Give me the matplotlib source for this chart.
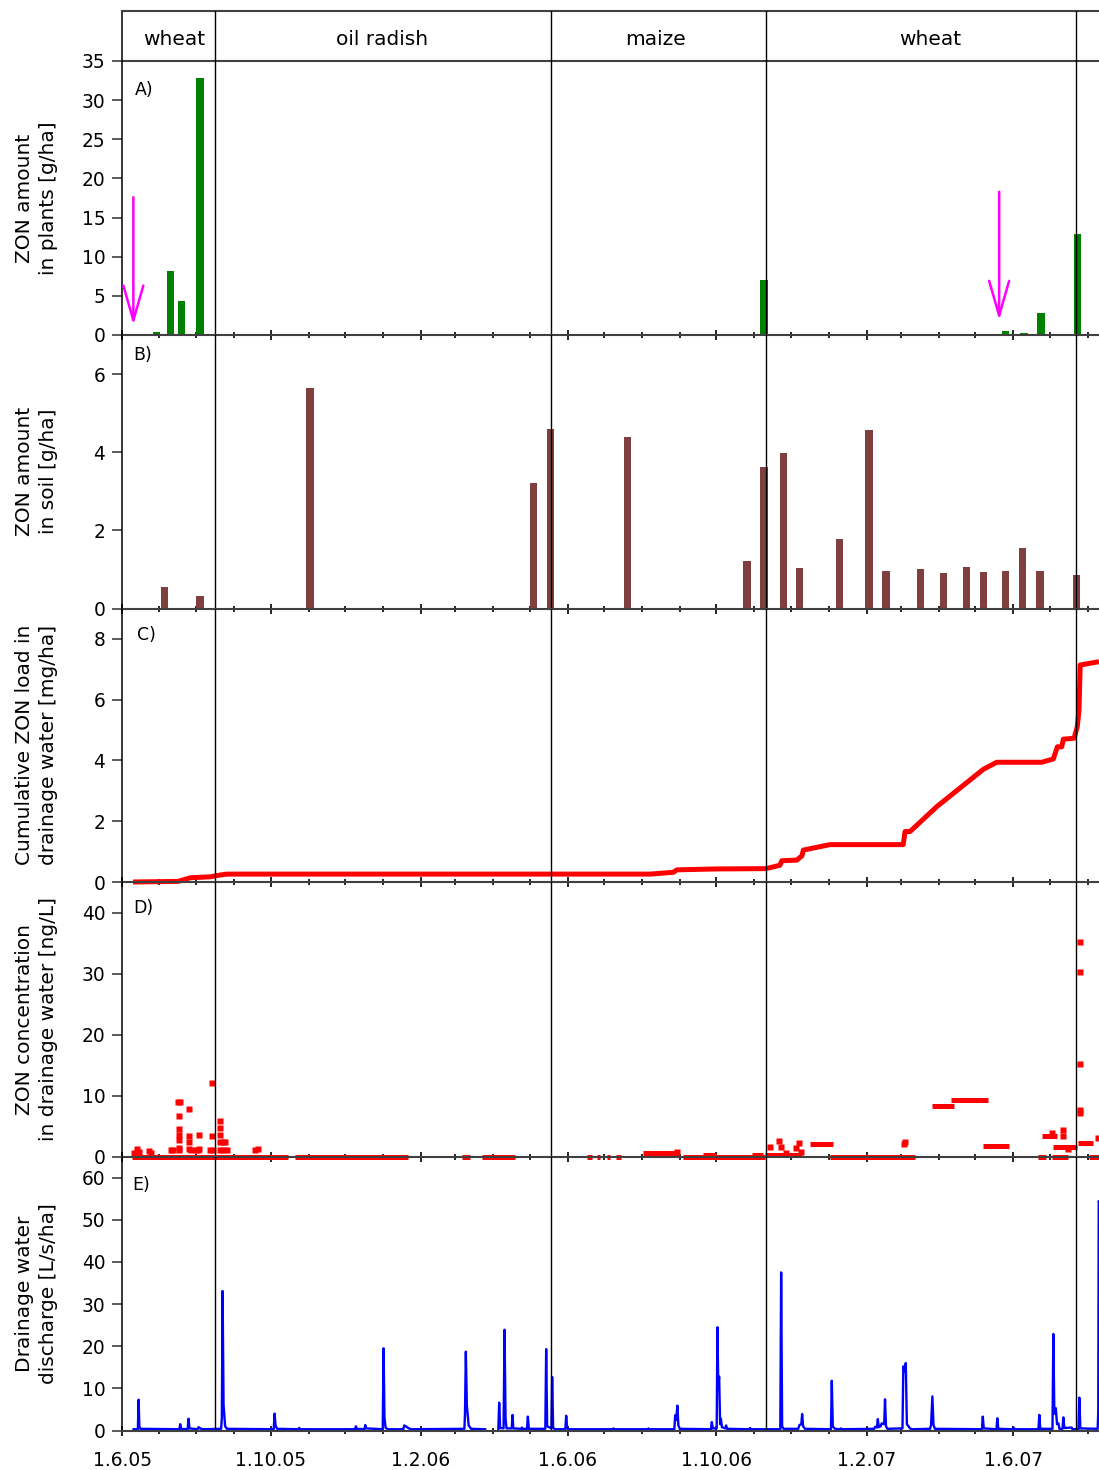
import numpy as np
import matplotlib
matplotlib.use("Agg")
import matplotlib.pyplot as plt
import matplotlib.dates as mdates
from datetime import datetime

# ---------------- data (days counted from 1 June 2005) ----------------
START = datetime(2005, 6, 1)
X_END_DAY = 800.4

crop_names = ["wheat", "oil radish", "maize", "wheat"]
crop_bounds = [75.8, 351.3, 527.4, 781.6]          # crop changes (vertical lines)
crop_label_days = [43, 213, 437, 662]

# A) ZON amount in plants [g/ha]
A_days = [28, 40, 49, 64, 526, 724, 739, 753, 783]
A_vals = [0.35, 8.2, 4.3, 32.8, 7.0, 0.45, 0.25, 2.75, 12.9]
A_arrow_days = [9.3, 718.6]
A_arrow_top = [17.6, 18.3]
A_arrow_bottom = [1.3, 1.9]

# B) ZON amount in soil [g/ha]
B_days = [35, 64, 154, 337, 351, 414, 512, 526, 542, 555, 588, 612, 626, 654,
          673, 692, 706, 724, 738, 752, 782]
B_vals = [0.55, 0.31, 5.64, 3.21, 4.60, 4.38, 1.22, 3.62, 3.97, 1.04, 1.79, 4.57,
          0.96, 1.02, 0.91, 1.06, 0.94, 0.96, 1.55, 0.96, 0.87]

# C) cumulative ZON load in drainage water [mg/ha]
C_days = [9, 46, 56, 72, 80.5, 86, 432.7, 451.8, 454.5, 487.3, 527.4, 539, 540.5,
          552.8, 557, 558.2, 580, 640, 641.5, 645.6, 667.5, 705.7, 716.6, 753.5,
          763, 766.3, 769.9, 771.2, 780, 782.6, 784, 785, 800.4]
C_vals = [0, 0.02, 0.14, 0.17, 0.23, 0.26, 0.26, 0.32, 0.40, 0.43, 0.44, 0.55, 0.70,
          0.72, 0.86, 1.05, 1.23, 1.23, 1.66, 1.66, 2.48, 3.71, 3.94, 3.94,
          4.05, 4.45, 4.45, 4.70, 4.73, 5.11, 5.66, 7.14, 7.25]

# D) ZON concentration in drainage water [ng/L]
#    periods with constant concentration (start day, end day, value)
D_seg_start = [8.5, 142, 278.5, 294.8, 381, 389, 397, 405, 427, 459.7, 476, 516,
               527, 563.7, 580, 663.9, 678.9, 705.6, 750.2, 761.7, 753.5, 763,
               783.4, 792.3]
D_seg_end = [136.3, 234.7, 285.3, 322.1, 385, 392, 400, 409, 456.7, 527, 487, 525,
             557, 582.8, 649.8, 681.9, 709.1, 726.9, 757, 774.8, 765.8, 782.1,
             795.2, 800.5]
D_seg_val = [0, 0, 0, 0, 0, 0, 0, 0, 0.55, 0, 0.2, 0.25,
             0.3, 2.1, 0, 8.2, 9.3, 1.8, 0, 0, 3.3, 1.5,
             2.15, 0]
#    single samples
D_pt_day = [10, 12.5, 14, 22, 23.5, 40, 41.5,
            45.5, 47.5, 47, 46.5, 46.5, 46.5, 46.5, 46.5,
            54.5, 54.5, 54.5, 54.5, 56.5,
            63.3, 63.3, 61, 62,
            73.7, 73.7, 72.5, 74.5,
            80, 80, 80, 80, 80,
            83, 84.5, 83, 86,
            109, 111.5,
            454.5,
            531, 538.5, 540, 544, 552.5, 555, 556.5,
            640.7, 641.3,
            762, 771, 771, 775.3,
            785, 785, 785, 785, 785.2,
            799.5]
D_pt_val = [0.5, 1.2, 0.7, 0.9, 0.6, 1.0, 1.1,
            8.9, 8.9, 6.7, 4.5, 3.6, 2.7, 1.4, 1.0,
            7.8, 3.4, 2.3, 1.3, 1.0,
            3.6, 1.3, 1.0, 1.0,
            12.0, 3.4, 1.0, 1.0,
            5.8, 4.7, 3.6, 2.4, 1.1,
            2.4, 2.4, 1.1, 1.1,
            1.0, 1.2,
            0.8,
            1.6, 2.6, 1.6, 0.6, 1.4, 2.2, 0.8,
            2.0, 2.3,
            3.8, 4.3, 3.3, 1.3,
            35.2, 30.2, 15.2, 7.2, 7.6,
            3.0]

# E) drainage water discharge [L/s/ha]
nan = np.nan
E_days = [9.5, 13.0, 13.6, 14.2, 15.0,
          47.0, 47.7, 48.4,
          53.8, 54.5, 55.3,
          62.0, 62.7, 64.0, 66.0,
          81.2, 81.8, 82.4, 83.2, 84.5, 86.0,
          124.3, 125.0, 125.8, 127.0,
          144.5, 145.2, 146.0,
          190.9, 191.6, 192.3,
          198.6, 199.3, 200.2,
          213.6, 214.3, 215.0, 216.0, 218.0,
          230.5, 231.2, 233.0, 235.0, 237.0,
          280.5, 281.0, 281.7, 282.5, 284.0, 286.0,
          297.5, 303.0,
          308.3, 309.0, 309.8, 312.6, 313.4, 314.2, 315.0,
          319.3, 319.9, 320.6,
          327.0, 327.6, 328.3,
          331.8, 332.5, 333.3,
          346.8, 347.5, 348.3,
          351.8, 352.4, 353.2, 355.0,
          363.2, 363.9, 364.7, 366.0,
          402.0, 402.6, 403.2,
          430.7, 431.3, 432.0,
          452.5, 453.2, 454.0, 455.0, 455.8, 457.0,
          482.5, 483.2, 484.0, 487.2, 487.8, 488.5, 489.2, 490.0, 490.6, 491.5,
          494.2, 494.9, 495.7,
          514.0, 514.6, 515.3,
          539.3, 540.0, 540.8, 542.0,
          554.0, 555.0, 556.5, 557.2, 558.0, 559.5,
          580.8, 581.5, 582.3, 584.0,
          588.3, 588.9, 589.5,
          616.3, 617.0, 618.5, 619.2, 620.0, 621.5, 622.4, 624.4, 625.1, 625.9, 627.0,
          639.4, 640.1, 641.0, 642.1, 643.0, 645.6, 647.0,
          662.0, 662.8, 663.9, 664.8, 666.0,
          704.5, 705.2, 706.0,
          716.4, 717.1, 717.9,
          729.5, 730.2, 731.5,
          750.8, 751.5, 752.3,
          762.3, 763.0, 763.8, 765.0, 766.0, 767.1, 768.0,
          770.5, 771.2, 772.0, 778.0, 778.7,
          783.6, 784.3, 785.1,
          799.3, 799.8, 800.2, 800.6]
E_flow = [0.3, 0.3, 7.3, 1.0, 0.4,
          0.3, 1.5, 0.4,
          0.3, 2.8, 0.5,
          0.3, 0.8, 0.5, 0.3,
          0.4, 3.0, 33.1, 6.0, 1.0, 0.4,
          0.3, 4.0, 1.2, 0.4,
          0.3, 0.6, 0.3,
          0.3, 1.0, 0.4,
          0.3, 1.3, 0.5,
          0.3, 19.5, 3.0, 0.6, 0.3,
          0.3, 1.2, 0.9, 0.5, 0.3,
          0.4, 4.0, 18.7, 6.0, 1.2, 0.4,
          0.3, nan,
          0.3, 6.6, 0.6, 0.5, 23.9, 3.0, 0.5,
          0.5, 3.7, 0.5,
          0.4, 0.7, 0.4,
          0.4, 3.3, 0.4,
          0.4, 19.3, 1.0,
          0.5, 12.7, 0.6, 0.3,
          0.3, 3.5, 0.6, 0.3,
          0.3, 0.5, 0.3,
          0.3, 0.5, 0.3,
          0.3, 3.6, 2.5, 5.9, 1.2, 0.4,
          0.3, 2.0, 0.5, 0.5, 24.5, 10.0, 12.8, 1.5, 2.8, 0.8,
          0.5, 1.2, 0.4,
          0.3, 0.6, 0.3,
          0.3, 37.5, 1.0, 0.4,
          0.4, 1.3, 1.5, 3.9, 1.0, 0.4,
          0.3, 11.8, 1.0, 0.4,
          0.3, 0.5, 0.3,
          0.4, 0.9, 0.7, 2.7, 0.8, 1.0, 1.7, 1.5, 7.4, 1.0, 0.4,
          0.5, 15.2, 14.0, 16.0, 1.5, 0.5, 0.3,
          0.4, 1.3, 8.1, 1.3, 0.4,
          0.3, 3.3, 0.5,
          0.3, 2.9, 0.4,
          0.3, 0.7, 0.3,
          0.3, 3.7, 0.4,
          0.4, 22.9, 4.0, 5.3, 1.5, 1.7, 0.4,
          0.4, 3.1, 0.6, 0.7, 0.3,
          0.3, 7.8, 0.5,
          0.4, 4.5, 54.4, 54.0]
assert len(E_days) == len(E_flow)
assert len(D_pt_day) == len(D_pt_val)
assert len(D_seg_start) == len(D_seg_end) == len(D_seg_val)

y_labels = ["ZON amount\nin plants [g/ha]",
            "ZON amount\nin soil [g/ha]",
            "Cumulative ZON load in\ndrainage water [mg/ha]",
            "ZON concentration\nin drainage water [ng/L]",
            "Drainage water\ndischarge [L/s/ha]"]
panel_letters = ["A)", "B)", "C)", "D)", "E)"]
y_limits = [35, 7, 9, 45, 65]
y_ticks = [list(range(0, 36, 5)), [0, 2, 4, 6], [0, 2, 4, 6, 8],
           [0, 10, 20, 30, 40], list(range(0, 61, 10))]

# ---------------- drawing ----------------
x0 = mdates.date2num(START)


def X(days):
    return x0 + np.asarray(days, dtype=float)


plt.rcParams["font.family"] = ["DejaVu Sans"]
W, H = 1099, 1470
fig = plt.figure(figsize=(W / 100, H / 100), dpi=100)


def add(top, bottom):
    return fig.add_axes([122 / W, 1 - bottom / H, (W - 122) / W, (bottom - top) / H])


GREY = "#404040"
hdr = add(11, 61)
tops = [61, 335, 608.5, 882, 1156.5]
bottoms = [335, 608.5, 882, 1156.5, 1430.5]
axes = [add(t, b) for t, b in zip(tops, bottoms)]

# header
hdr.set_xlim(X(0), X(X_END_DAY))
hdr.set_ylim(0, 1)
hdr.set_xticks([])
hdr.set_yticks([])
hdr.spines["right"].set_visible(False)
for s in ("top", "bottom"):
    hdr.spines[s].set_color(GREY)
    hdr.spines[s].set_linewidth(1.5)
hdr.spines["left"].set_color("black")
hdr.spines["left"].set_linewidth(1.1)
for name, d in zip(crop_names, crop_label_days):
    hdr.text(X(d), 0.43, name, ha="center", va="center", fontsize=14.5)
for b in crop_bounds:
    hdr.axvline(X(b), color="black", lw=1.0, zorder=5)

letter_offsets = [(13, -20), (11, -11), (15, -17), (11, -17), (10, -19)]

for i, ax in enumerate(axes):
    ax.set_xlim(X(0), X(X_END_DAY))
    ax.set_ylim(0, y_limits[i])
    ax.set_yticks(y_ticks[i])
    ax.spines["top"].set_visible(False)
    ax.spines["right"].set_visible(False)
    ax.spines["left"].set_color("black")
    ax.spines["left"].set_linewidth(1.1)
    ax.spines["bottom"].set_color(GREY)
    ax.spines["bottom"].set_linewidth(1.5)
    ax.spines["bottom"].set_zorder(6)
    ax.xaxis.set_major_locator(mdates.MonthLocator(bymonth=[2, 6, 10]))
    ax.xaxis.set_minor_locator(mdates.MonthLocator())
    ax.tick_params(axis="x", which="major", direction="inout", length=7.5,
                   width=1.2, color="black", pad=11, labelsize=13.4)
    ax.tick_params(axis="x", which="minor", direction="inout", length=4.5,
                   width=1.2, color="black")
    ax.tick_params(axis="y", direction="out", length=7, width=1.2, color=GREY,
                   pad=5, labelsize=13.4)
    if i < 4:
        ax.tick_params(axis="x", which="both", labelbottom=False)
    else:
        ax.xaxis.set_major_formatter(plt.FuncFormatter(
            lambda v, p: (lambda d: f"{d.day}.{d.month}.{d.strftime('%y')}")(mdates.num2date(v))))
    ax.set_ylabel(y_labels[i], fontsize=14.5, linespacing=1.35)
    ax.yaxis.set_label_coords(-0.0655, 0.5)
    ox, oy = letter_offsets[i]
    ax.annotate(panel_letters[i], xy=(0, 1), xycoords="axes fraction",
                xytext=(ox, oy), textcoords="offset pixels", ha="left", va="top",
                fontsize=12.5)
    for b in crop_bounds:
        ax.axvline(X(b), color="black", lw=1.0, zorder=5)
    ax.patch.set_visible(False)

axA, axB, axC, axD, axE = axes

# A
axA.bar(X(A_days), A_vals, width=6, color="#008000", zorder=3)
for d, yt, yb in zip(A_arrow_days, A_arrow_top, A_arrow_bottom):
    axA.annotate("", xy=(X(d), yb), xytext=(X(d), yt),
                 arrowprops=dict(arrowstyle="->,head_length=2.5,head_width=0.72",
                                 color="#ff00ff", lw=1.8, shrinkA=0, shrinkB=0,
                                 mutation_scale=10))

# B
axB.bar(X(B_days), B_vals, width=6, color="#7f3f3f", zorder=3)

# C
axC.plot(X(C_days), C_vals, color="#ff0000", lw=3.6, solid_joinstyle="round",
         solid_capstyle="butt", clip_on=False, zorder=4)

# D
axD.hlines(D_seg_val, X(D_seg_start), X(D_seg_end), colors="#ff0000", lw=3.6,
           clip_on=False, zorder=4)
axD.plot(X(D_pt_day), D_pt_val, "s", ms=3.9, color="#ff0000", mec="none",
         clip_on=False, zorder=4)

# E
axE.plot(X(E_days), E_flow, color="#0000ff", lw=1.7, clip_on=False, zorder=4)

fig.savefig("out.png", dpi=100)
